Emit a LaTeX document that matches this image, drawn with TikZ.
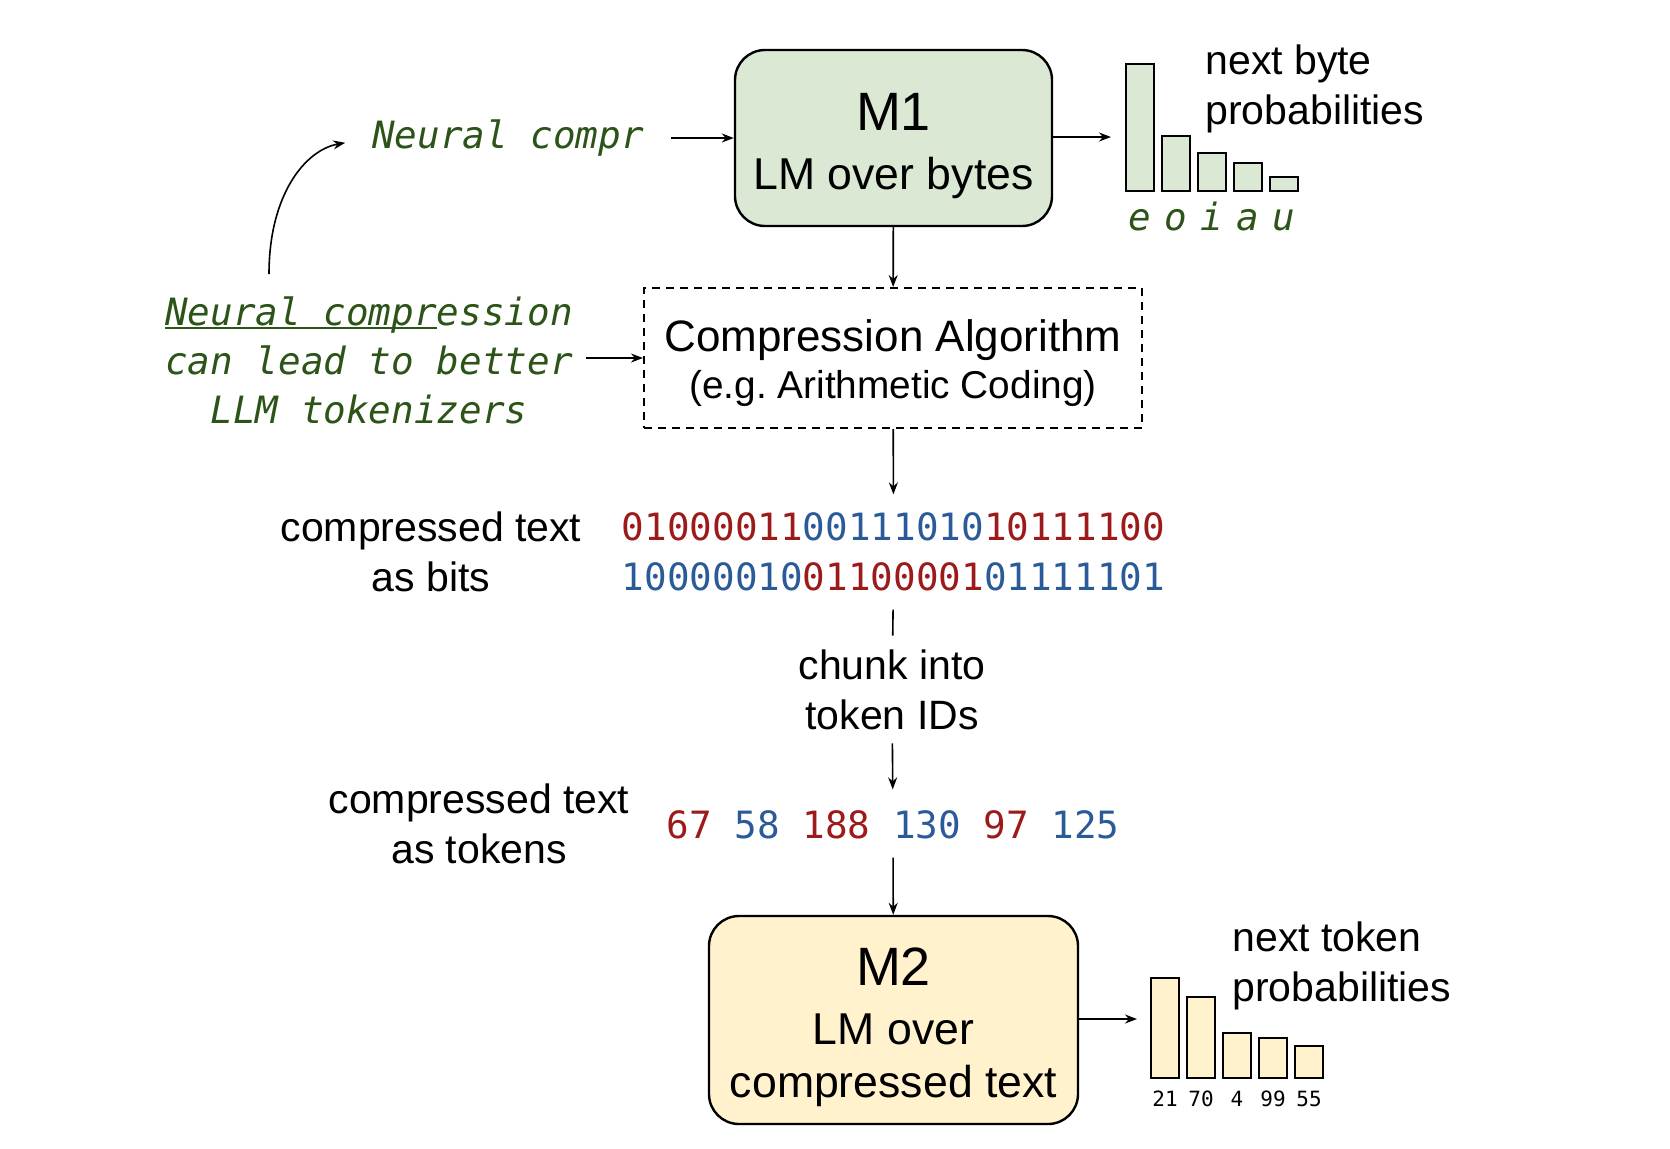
\documentclass[tikz,border=0pt]{standalone}
\usepackage{fontspec}
\setmainfont{Liberation Sans}
\newfontfamily\monofont{DejaVu Sans Mono}
\usetikzlibrary{arrows.meta}

\definecolor{bytegreen}{HTML}{DAE8D4}
\definecolor{tokenyellow}{HTML}{FFF2CC}
\definecolor{notegreen}{HTML}{2D5418}
\definecolor{bitred}{HTML}{9C1A1A}
\definecolor{bitblue}{HTML}{2A5A98}

% underline that runs through the descenders
\newcommand{\undertext}[1]{\setbox0\hbox{#1}\rlap{\rule[-1.8pt]{\wd0}{1.1pt}}\box0}

\tikzset{
	modelbox/.style={draw, line width=1.2pt, rounded corners=15pt, inner sep=0pt},
	modelname/.style={anchor=base, inner sep=0pt, font=\fontsize{27}{32}\selectfont},
	modeltext/.style={anchor=base, inner sep=0pt, font=\fontsize{22.3}{26}\selectfont},
	greennote/.style={inner sep=0pt, text=notegreen, align=center, font=\monofont\itshape\fontsize{18.8}{24.5}\selectfont},
	plaintext/.style={inner sep=0pt, align=center, font=\fontsize{20.5}{25}\selectfont},
	bitrow/.style={inner sep=0pt, font=\monofont\fontsize{18.8}{23}\selectfont},
	probbar/.style={draw, line width=1pt},
	barid/.style={inner sep=0pt, font=\monofont\fontsize{10.5}{12}\selectfont},
	flowarrow/.style={line width=0.8pt, -{Stealth[length=6pt, width=4.5pt]}},
}

\begin{document}
\begin{tikzpicture}[x=0.5pt, y=-0.5pt]
	\useasboundingbox (0,0) rectangle (1670,1148);

	% byte level model
	\node [modelbox, fill=bytegreen, minimum width=158.5pt, minimum height=88pt] (m1) at (893.5,138) {};
	\node [modelname] (m1name) at (893.5,130) {M1};
	\node [modeltext] (m1text) at (893.5,189) {LM over bytes};

	% side notes
	\node [greennote] (ncomp) at (508,138) {Neural compr};
	\node [greennote] (why) at (369,360) {\undertext{Neural compr}ession\\can lead to better\\LLM tokenizers};
	\coordinate (curl) at (269,274);
	\draw [flowarrow, shorten >=13.5pt] (curl) .. controls (269,195) and (305,150) .. (ncomp.west);
	\draw [flowarrow, shorten <=13.5pt] (ncomp.east) -- (m1.west |- ncomp.east);

	% next byte distribution
	\coordinate (bytetip) at (1111,137);
	\draw [flowarrow] (m1.east |- bytetip) -- (bytetip);
	\draw [probbar, fill=bytegreen] (1126,191) rectangle (1154,64);
	\draw [probbar, fill=bytegreen] (1162,191) rectangle (1190,136);
	\draw [probbar, fill=bytegreen] (1198,191) rectangle (1226,153);
	\draw [probbar, fill=bytegreen] (1234,191) rectangle (1262,163);
	\draw [probbar, fill=bytegreen] (1270,191) rectangle (1298,177);
	\node [greennote, anchor=base] (ce) at (1140,230) {e};
	\node [greennote, anchor=base] (co) at (1176,230) {o};
	\node [greennote, anchor=base] (ci) at (1212,230) {i};
	\node [greennote, anchor=base] (ca) at (1248,230) {a};
	\node [greennote, anchor=base] (cu) at (1284,230) {u};
	\node [plaintext, anchor=west, align=left] (nextbyte) at (1205,89) {next byte\\probabilities};

	% arithmetic coder
	\node [draw, line width=1pt, dash pattern=on 4pt off 3pt, minimum width=249pt, minimum height=70pt, align=center, font=\fontsize{22}{25}\selectfont] (alg) at (893,358) {\rule{0pt}{21pt}Compression Algorithm\\[-1.5pt]{\fontsize{19.4}{23}\selectfont (e.g.\ Arithmetic Coding)}};
	\draw [flowarrow] (m1) -- (alg);
	\draw [flowarrow, shorten <=6.5pt] (why.east |- alg.west) -- (alg.west);

	% bits
	\node [bitrow] (bits1) at (893.5,527) {\textcolor{bitred}{01000011}\textcolor{bitblue}{00111010}\textcolor{bitred}{10111100}};
	\node [bitrow] (bits2) at (893.5,577) {\textcolor{bitblue}{10000010}\textcolor{bitred}{01100001}\textcolor{bitblue}{01111101}};
	\node [plaintext] (bitslabel) at (431,552) {compressed text\\as bits};
	\draw [flowarrow, shorten >=9pt] (alg) -- (bits1);

	% chunking
	\node [plaintext] (chunk) at (892,690) {chunk into\\token IDs};
	\draw [line width=0.8pt, shorten <=9pt, shorten >=7pt] (bits2) -- (chunk);

	% tokens
	\node [bitrow] (tokens) at (893,825) {\textcolor{bitred}{67} \textcolor{bitblue}{58} \textcolor{bitred}{188} \textcolor{bitblue}{130} \textcolor{bitred}{97} \textcolor{bitblue}{125}};
	\node [plaintext] (toklabel) at (479,824) {compressed text\\as tokens};
	\draw [flowarrow, shorten <=6.5pt, shorten >=10.5pt] (chunk) -- (tokens);

	% token level model
	\node [modelbox, fill=tokenyellow, minimum width=184.5pt, minimum height=104pt] (m2) at (893.5,1020) {};
	\node [modelname] (m2name) at (893.5,985) {M2};
	\node [modeltext] (m2text) at (893.5,1044) {LM over};
	\node [modeltext] (m2text2) at (893.5,1097) {compressed text};
	\draw [flowarrow, shorten <=9pt] (tokens) -- (m2);

	% next token distribution
	\coordinate (tokentip) at (1137,1019);
	\draw [flowarrow] (m2.east |- tokentip) -- (tokentip);
	\draw [probbar, fill=tokenyellow] (1151,1078) rectangle (1179,978);
	\draw [probbar, fill=tokenyellow] (1187,1078) rectangle (1215,997);
	\draw [probbar, fill=tokenyellow] (1223,1078) rectangle (1251,1033);
	\draw [probbar, fill=tokenyellow] (1259,1078) rectangle (1287,1038);
	\draw [probbar, fill=tokenyellow] (1295,1078) rectangle (1323,1046);
	\node [barid, anchor=base] (t1) at (1165,1106) {21};
	\node [barid, anchor=base] (t2) at (1201,1106) {70};
	\node [barid, anchor=base] (t3) at (1237,1106) {4};
	\node [barid, anchor=base] (t4) at (1273,1106) {99};
	\node [barid, anchor=base] (t5) at (1309,1106) {55};
	\node [plaintext, anchor=west, align=left] (nexttoken) at (1232,966) {next token\\probabilities};

\end{tikzpicture}
\end{document}
